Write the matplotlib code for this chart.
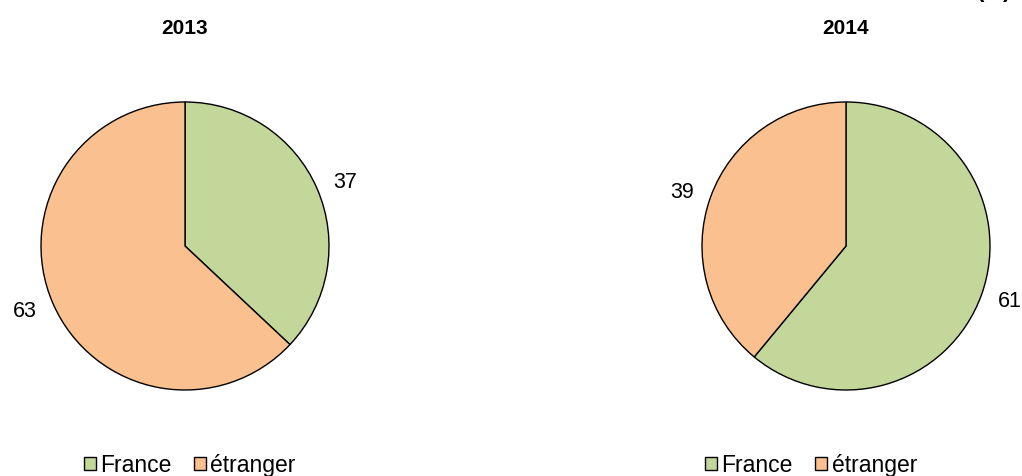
import matplotlib.pyplot as plt
from matplotlib.patches import Patch

plt.rcParams['font.family'] = ['Liberation Sans', 'DejaVu Sans']

years = ['2013', '2014']
categories = ['France', 'étranger']
values_2013 = [37, 63]
values_2014 = [61, 39]
colors = ['#C4D79B', '#FAC090']

W, H = 1022, 477
fig = plt.figure(figsize=(W / 100, H / 100), dpi=100)

def make_pie(cx, cy, r, vals, title, leg_x):
    ax = fig.add_axes([(cx - r) / W, (H - cy - r) / H, 2 * r / W, 2 * r / H])
    ax.pie(vals, colors=colors, startangle=90, counterclock=False,
           labels=[str(v) for v in vals], labeldistance=1.12,
           textprops={'fontsize': 15.5},
           wedgeprops={'edgecolor': 'black', 'linewidth': 1})
    ax.set_xlim(-1, 1)
    ax.set_ylim(-1, 1)
    fig.text(cx / W, 1 - 28 / H, title, ha='center', va='center',
             fontsize=15, fontweight='bold')
    handles = [Patch(facecolor=c, edgecolor='black', linewidth=1) for c in colors]
    fig.legend(handles, categories, loc='center', ncol=2,
               bbox_to_anchor=(leg_x / W, 1 - 466 / H), frameon=False,
               fontsize=16.5, handlelength=0.5, handleheight=0.5,
               handletextpad=0.2, columnspacing=1.0, borderpad=0)

make_pie(185, 247, 144, values_2013, years[0], 190)
make_pie(846, 247, 144, values_2014, years[1], 811)

# titre "(%)" presque entièrement coupé en haut à droite
fig.text(1011 / W, 1 - 2 / H, '(%)', ha='right', va='bottom',
         fontsize=16, fontweight='bold')

fig.savefig('out.png', dpi=100)
